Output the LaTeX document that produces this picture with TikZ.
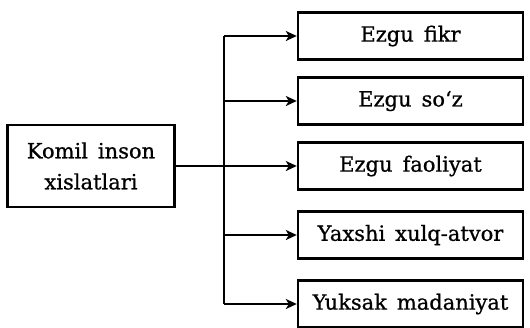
\documentclass[tikz,border=0pt]{standalone}
\usepackage{fontspec}
\setmainfont{DejaVu Serif}[WordSpace=1.5, FakeBold=0.8]
\usetikzlibrary{arrows.meta, positioning}
\tikzstyle{trait} = [rectangle, minimum width=225pt, minimum height=47pt, inner sep=0pt, text centered, draw=black, line width=2.4pt, font=\fontsize{21}{25}\selectfont]
\tikzstyle{source} = [rectangle, minimum width=167pt, minimum height=82pt, inner sep=0pt, align=center, draw=black, line width=2.4pt, font=\fontsize{21}{31}\selectfont]
\tikzstyle{line} = [draw, line width=2.4pt, -{Stealth[length=11pt, width=10pt, inset=3pt]}]

\begin{document}
\begin{tikzpicture}[x=1pt, y=-1pt]
    \useasboundingbox (0,0) rectangle (530,327);
    \clip (0,0) rectangle (530,327);
    % Nodes
    \node [source] (komil) at (91,166) {Komil inson \\ xislatlari};
    \node [trait] (fikr) at (410.5,36) {Ezgu fikr};
    \node [trait] (soz) at (410.5,101) {Ezgu so‘z};
    \node [trait] (faoliyat) at (410.5,166) {Ezgu faoliyat};
    \node [trait] (xulq) at (410.5,235) {Yaxshi xulq-atvor};
    \node [trait] (madaniyat) at (410.5,304) {Yuksak madaniyat};
    \coordinate (btop) at (224,36);
    \coordinate (bbot) at (224,304);

    % Edges
    \draw [line width=2.4pt] (btop) -- (bbot);
    \path [line] (btop) -- (fikr);
    \path [line] (btop |- soz) -- (soz);
    \path [line] (komil) -- (faoliyat);
    \path [line] (btop |- xulq) -- (xulq);
    \path [line] (bbot) -- (madaniyat);
\end{tikzpicture}
\end{document}
